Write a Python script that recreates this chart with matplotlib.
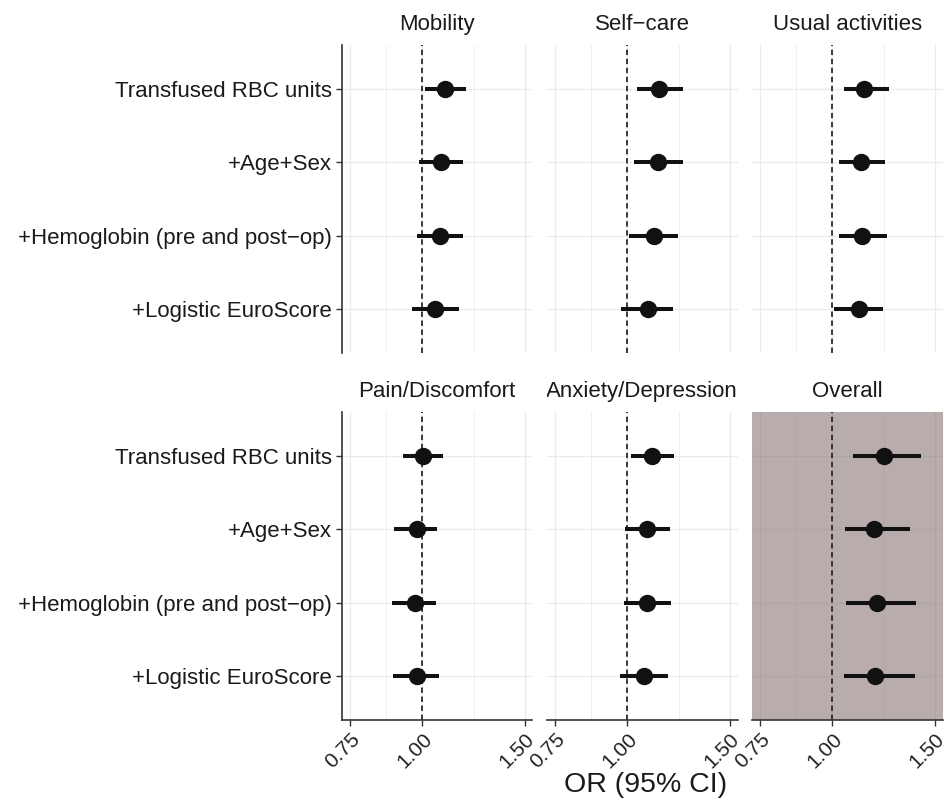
import numpy as np
import matplotlib.pyplot as plt
from matplotlib.patches import Rectangle
from matplotlib.ticker import FixedLocator, NullFormatter
from matplotlib.transforms import Bbox, TransformedBbox

plt.rcParams['font.family'] = ['Liberation Sans', 'DejaVu Sans']

# 数据
outcomes = ['Mobility', 'Self\u2212care', 'Usual activities',
            'Pain/Discomfort', 'Anxiety/Depression', 'Overall']
models = ['Transfused RBC units', '+Age+Sex',
          '+Hemoglobin (pre and post\u2212op)', '+Logistic EuroScore']

est = [
    [1.093, 1.075, 1.071, 1.050],   # Mobility
    [1.134, 1.128, 1.109, 1.083],   # Self-care
    [1.135, 1.119, 1.124, 1.109],   # Usual activities
    [1.003, 0.977, 0.971, 0.978],   # Pain/Discomfort
    [1.102, 1.080, 1.080, 1.066],   # Anxiety/Depression
    [1.226, 1.180, 1.193, 1.183],   # Overall
]
lower = [
    [1.009, 0.987, 0.979, 0.959],
    [1.038, 1.027, 1.006, 0.976],
    [1.046, 1.026, 1.026, 1.008],
    [0.924, 0.894, 0.885, 0.889],
    [1.015, 0.992, 0.988, 0.972],
    [1.084, 1.050, 1.055, 1.045],
]
upper = [
    [1.190, 1.175, 1.175, 1.155],
    [1.246, 1.246, 1.224, 1.200],
    [1.254, 1.232, 1.244, 1.224],
    [1.085, 1.061, 1.057, 1.068],
    [1.205, 1.184, 1.188, 1.174],
    [1.421, 1.361, 1.393, 1.388],
]

xticks = [0.75, 1.00, 1.50]
xtick_labels = ['0.75', '1.00', '1.50']

W, H = 945, 811
fig = plt.figure(figsize=(W / 100, H / 100), dpi=100)

col_x = [342, 547, 752]
col_w = 190.5
row_top = [45, 412]
row_h = 308

ypos = np.arange(1, len(models) + 1)
txt_col = '#1a1a1a'

for k, name in enumerate(outcomes):
    r, c = divmod(k, 3)
    ax = fig.add_axes([col_x[c] / W, (H - row_top[r] - row_h) / H,
                       col_w / W, row_h / H])
    ax.set_xscale('log')
    ax.set_xlim(0.7266, 1.548)
    ax.set_ylim(4.6, 0.4)
    ax.xaxis.set_major_locator(FixedLocator(xticks))
    ax.xaxis.set_minor_locator(FixedLocator([np.sqrt(0.75), np.sqrt(1.5)]))
    ax.xaxis.set_minor_formatter(NullFormatter())
    ax.set_xticklabels(xtick_labels)
    ax.set_yticks(ypos)
    ax.set_yticklabels(models)

    ax.set_axisbelow(True)
    ax.grid(which='major', color='#ebebeb', lw=0.9)
    ax.grid(which='minor', axis='x', color='#f0f0f0', lw=0.7)

    for s in ax.spines.values():
        s.set_visible(False)

    if name == 'Overall':
        ax.add_patch(Rectangle((0, 0), 1, 1, transform=ax.transAxes,
                               color=(0.47, 0.39, 0.376), alpha=0.52,
                               lw=0, zorder=1))

    ax.axvline(1.0, color='#2b2b2b', lw=1.3, ls=(0, (3, 2)), zorder=2)
    ax.hlines(ypos, lower[k], upper[k], color='#111111', lw=2.9, zorder=3)
    ax.plot(est[k], ypos, 'o', ms=11.5, color='#111111', zorder=4)

    # y 轴
    if c == 0:
        ax.spines['left'].set_visible(True)
        ax.spines['left'].set_color('#333333')
        ax.spines['left'].set_linewidth(1.2)
        ax.tick_params(axis='y', length=4.5, width=1.0, color='#333333',
                       pad=3, labelsize=16, labelcolor=txt_col)
    else:
        ax.tick_params(axis='y', length=0, labelleft=False)

    # x 轴
    if r == 1:
        ax.spines['bottom'].set_visible(True)
        ax.spines['bottom'].set_color('#333333')
        ax.spines['bottom'].set_linewidth(1.2)
        ax.tick_params(axis='x', which='major', length=4, width=1.0,
                       color='#333333', pad=3, labelsize=15,
                       labelcolor='#222222')
        ax.tick_params(axis='x', which='minor', length=0)
        for lab in ax.get_xticklabels():
            lab.set_rotation(45)
            lab.set_ha('right')
            lab.set_va('top')
            lab.set_rotation_mode('anchor')
    else:
        ax.tick_params(axis='x', which='both', length=0, labelbottom=False)

    t = ax.set_title(name, fontsize=16, color=txt_col, pad=11)
    t.set_clip_box(TransformedBbox(Bbox([[0, 1], [1, 1.2]]), ax.transAxes))
    t.set_clip_on(True)

fig.text(646 / W, (H - 785) / H, 'OR (95% CI)', ha='center', va='center',
         fontsize=20.5, color=txt_col)

plt.savefig('out.png', dpi=100)
